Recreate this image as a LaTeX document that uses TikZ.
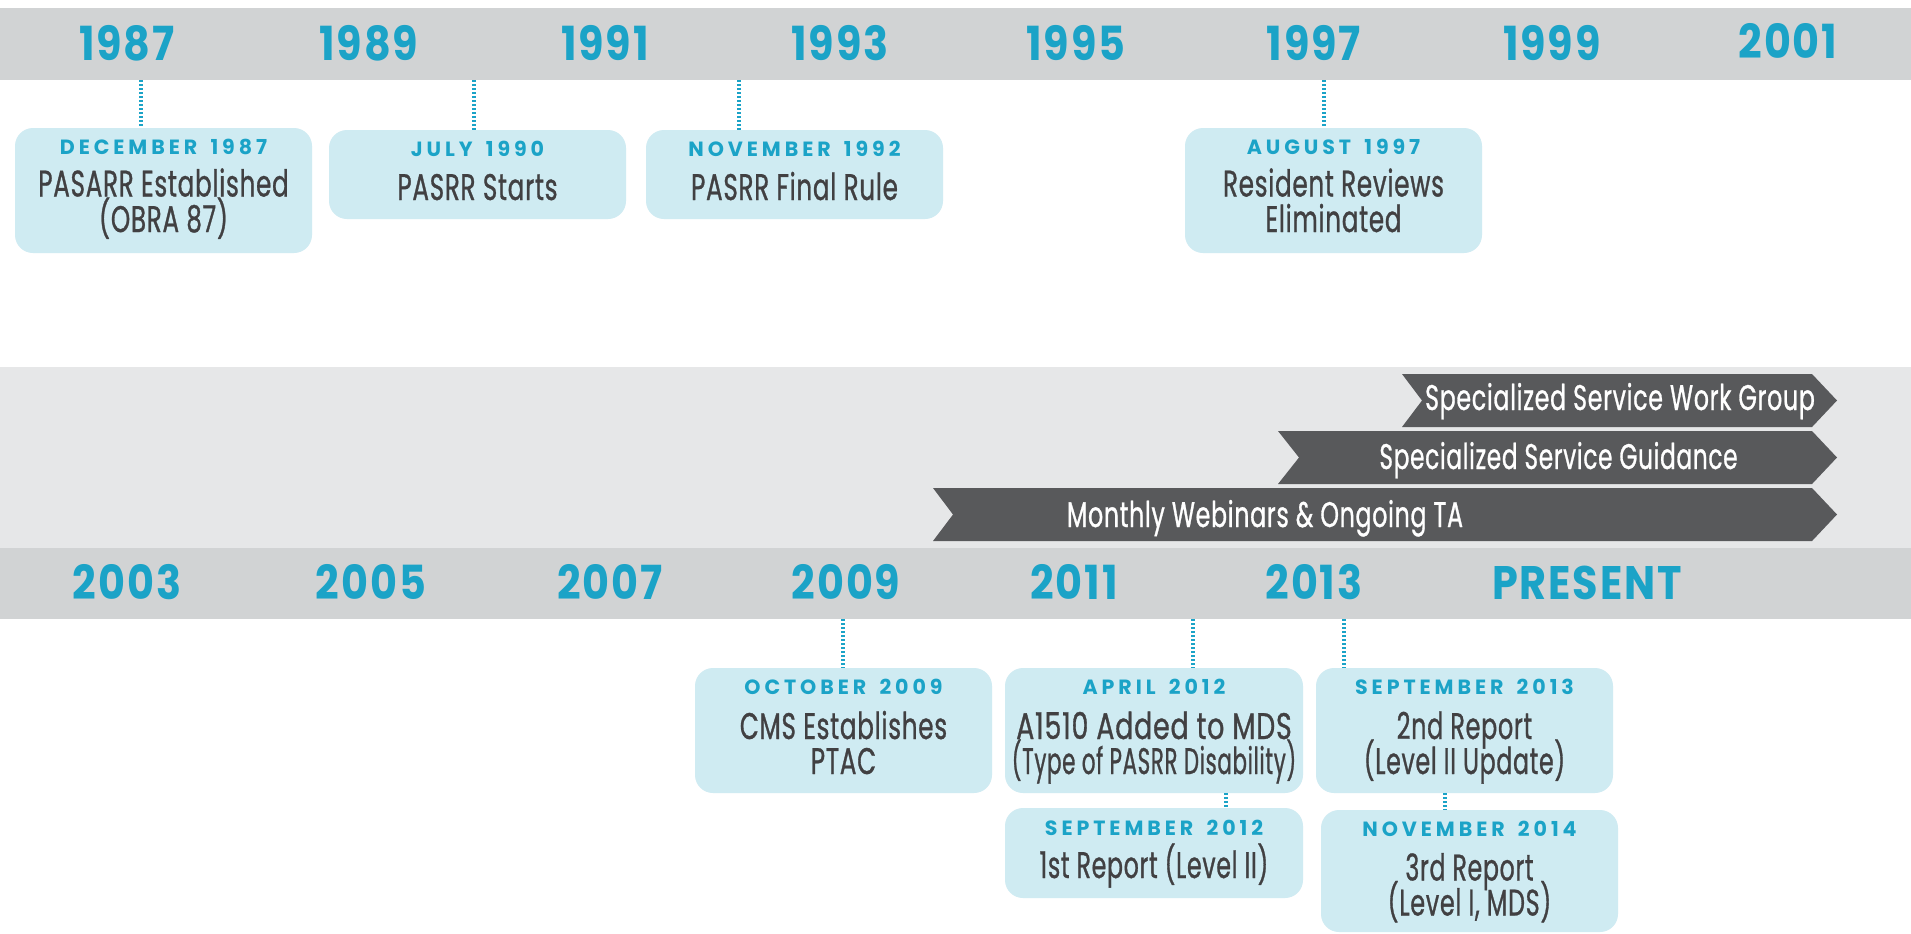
\documentclass[tikz,border=0pt]{standalone}
\usepackage{fontspec}
\setmainfont{Poppins}
\newfontfamily\bodyf{Poppins}[FakeStretch=0.665,FakeBold=0.8,LetterSpace=2]
\newfontfamily\yearf{Poppins}[FakeStretch=0.88,LetterSpace=4]
\newfontfamily\monthf{Poppins}[LetterSpace=19,WordSpace=1.6]
\usetikzlibrary{calc}
\definecolor{bandgray}{HTML}{D1D3D4}
\definecolor{lightband}{HTML}{E6E7E8}
\definecolor{boxblue}{HTML}{CFEBF2}
\definecolor{tealc}{HTML}{1BA3C7}
\definecolor{bodytext}{HTML}{414042}
\definecolor{chev}{HTML}{58595B}
\tikzset{
  band/.style={draw=none,inner sep=0pt,anchor=north west,minimum width=955.5pt},
  evbox/.style={draw=none,fill=boxblue,rounded corners=9pt,inner sep=0pt},
  yeartxt/.style={anchor=base,inner sep=0pt,text=tealc,font=\yearf\bfseries\fontsize{23.5}{26}\selectfont},
  monthtxt/.style={anchor=base,inner sep=0pt,text=tealc,font=\monthf\bfseries\fontsize{10.3}{12}\selectfont},
  bodytxt/.style={anchor=base,inner sep=0pt,text=bodytext,font=\bodyf\fontsize{18.5}{22}\selectfont},
  chevtxt/.style={anchor=base,inner sep=0pt,text=white,font=\bodyf\fontsize{17.8}{21}\selectfont},
  dotline/.style={draw=tealc,line width=1.75pt,dash pattern=on 1.2pt off 0.8pt},
  chevron/.style={fill=chev,draw=none}
}
\newcommand\evbox[5]{\node[evbox,minimum width={(#4-#2)*0.5pt},minimum height={(#5-#3)*0.5pt}] (#1) at ({(#2+#4)/2},{(#3+#5)/2}) {};}
\newcommand\sx[2]{\scalebox{#1}[1]{#2}}
\begin{document}
\begin{tikzpicture}[x=0.5pt,y=-0.5pt]
\useasboundingbox (0,0) rectangle (1911,933);
\fill[white] (0,0) rectangle (1911,933);
% bands
\node[band,fill=bandgray,minimum height=36pt] (topband) at (0,8) {};
\node[band,fill=lightband,minimum height=90.5pt] (midband) at (0,367) {};
\node[band,fill=bandgray,minimum height=35.5pt] (botband) at (0,548) {};
% top years
\node[yeartxt] (y1987) at (127,60) {1987};
\node[yeartxt] (y1989) at (369,60) {1989};
\node[yeartxt] (y1991) at (605,60) {1991};
\node[yeartxt] (y1993) at (840,60) {1993};
\node[yeartxt] (y1995) at (1076,60) {1995};
\node[yeartxt] (y1997) at (1314,60) {1997};
\node[yeartxt] (y1999) at (1552,60) {1999};
\node[yeartxt] (y2001) at (1788,58) {2001};
% bottom years
\node[yeartxt] (y2003) at (127,599) {2003};
\node[yeartxt] (y2005) at (371,599) {2005};
\node[yeartxt] (y2007) at (610,599) {2007};
\node[yeartxt] (y2009) at (846,599) {2009};
\node[yeartxt] (y2011) at (1074,599) {2011};
\node[yeartxt] (y2013) at (1314,599) {2013};
\node[yeartxt] (ypres) at (1587,599) {PRESENT};
% chevrons
\fill[chevron] (1402,374) -- (1812,374) -- (1837,400.5) -- (1812,427) -- (1402,427) -- (1422,400.5) -- cycle;
\fill[chevron] (1278,431) -- (1812,431) -- (1837,457.5) -- (1812,484) -- (1278,484) -- (1299,457.5) -- cycle;
\fill[chevron] (933,488) -- (1812,488) -- (1837,514.5) -- (1812,541) -- (933,541) -- (953,514.5) -- cycle;
\node[chevtxt] (c1) at (1620,410) {Specialized Service Work Group};
\node[chevtxt] (c2) at (1558.5,469) {\sx{0.98}{Specialized Service Guidance}};
\node[chevtxt] (c3) at (1265,527) {Monthly Webinars \& Ongoing TA};
% top boxes
\evbox{b1}{15}{128}{312}{253}
\evbox{b2}{329}{130}{626}{219}
\evbox{b3}{646}{130}{943}{219}
\evbox{b4}{1185}{128}{1482}{253}
\node[monthtxt] (b1m) at (163.5,154.5) {DECEMBER 1987};
\node[bodytxt] (b1a) at (163.5,196.5) {PASARR Established};
\node[bodytxt] (b1b) at (163.5,232) {(OBRA 87)};
\node[monthtxt] (b2m) at (477.5,156.5) {JULY 1990};
\node[bodytxt] (b2a) at (477.5,200) {PASRR Starts};
\node[monthtxt] (b3m) at (794.5,156.5) {NOVEMBER 1992};
\node[bodytxt] (b3a) at (794.5,200) {PASRR Final Rule};
\node[monthtxt] (b4m) at (1333.5,154.5) {AUGUST 1997};
\node[bodytxt] (b4a) at (1333.5,196.5) {Resident Reviews};
\node[bodytxt] (b4b) at (1333.5,232) {Eliminated};
% bottom boxes
\evbox{b5}{695}{668}{992}{793}
\evbox{b6}{1005}{668}{1303}{793}
\evbox{b7}{1005}{808}{1303}{898}
\evbox{b8}{1316}{668}{1613}{793}
\evbox{b9}{1321}{810}{1618}{932}
\node[monthtxt] (b5m) at (843.5,694.5) {OCTOBER 2009};
\node[bodytxt] (b5a) at (843.5,739) {CMS Establishes};
\node[bodytxt] (b5b) at (843.5,774) {PTAC};
\node[monthtxt] (b6m) at (1154,694.5) {APRIL 2012};
\node[bodytxt] (b6a) at (1154,739) {\sx{1.09}{A1510 Added to MDS}};
\node[bodytxt] (b6b) at (1154,774) {\sx{0.87}{(Type of PASRR Disability)}};
\node[monthtxt] (b7m) at (1154,835) {SEPTEMBER 2012};
\node[bodytxt] (b7a) at (1154,878) {\sx{0.96}{1st Report (Level II)}};
\node[monthtxt] (b8m) at (1464.5,694.5) {SEPTEMBER 2013};
\node[bodytxt] (b8a) at (1464.5,739) {\sx{0.97}{2nd Report}};
\node[bodytxt] (b8b) at (1464.5,774) {\sx{0.96}{(Level II Update)}};
\node[monthtxt] (b9m) at (1469.5,836) {NOVEMBER 2014};
\node[bodytxt] (b9a) at (1469.5,880.5) {\sx{0.96}{3rd Report}};
\node[bodytxt] (b9b) at (1469.5,915.5) {\sx{0.97}{(Level I, MDS)}};
% connectors
\coordinate (t1) at (141,80);
\coordinate (t2) at (474,80);
\coordinate (t3) at (739,80);
\coordinate (t4) at (1324,80);
\coordinate (t5) at (843,619);
\coordinate (t6) at (1193,619);
\coordinate (t8) at (1344,619);
\draw[dotline] (t1) -- (t1 |- b1.north);
\draw[dotline] (t2) -- (t2 |- b2.north);
\draw[dotline] (t3) -- (t3 |- b3.north);
\draw[dotline] (t4) -- (t4 |- b4.north);
\draw[dotline] (t5) -- (t5 |- b5.north);
\draw[dotline] (t6) -- (t6 |- b6.north);
\draw[dotline] (t8) -- (t8 |- b8.north);
\coordinate (t7) at (1226,793);
\coordinate (t9) at (1445,793);
\draw[dotline] (t7) -- (t7 |- b7.north);
\draw[dotline] (t9) -- (t9 |- b9.north);
\end{tikzpicture}
\end{document}
